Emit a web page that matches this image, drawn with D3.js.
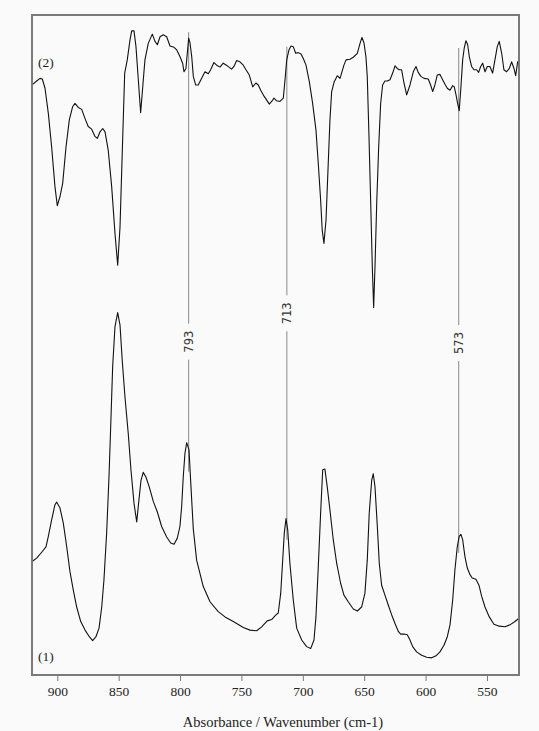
<!DOCTYPE html>
<html>
<head>
<meta charset="utf-8">
<script src="https://cdn.jsdelivr.net/npm/d3@7"></script>
<style>
  html, body { margin: 0; padding: 0; background: #fafafa; }
  svg { display: block; }
</style>
</head>
<body>
<script>
// Spectrum (1): absorbance vs wavenumber (cm-1), stacked at the bottom
const wavenumber1 = [920.5,916.8,912.7,909.2,907.3,904.6,901.9,900.5,897.8,895.1,892.3,889.7,887.0,884.2,880.9,877.4,873.9,871.2,868.5,866.0,863.8,862.0,859.8,857.9,856.5,854.9,853.0,850.8,848.9,847.1,844.9,842.2,840.0,837.5,835.3,833.5,831.8,830.0,827.8,825.1,821.8,818.5,815.0,810.9,807.6,804.9,802.3,800.1,798.7,797.4,796.0,794.6,792.7,791.1,789.2,786.5,781.1,775.6,768.9,763.4,756.6,748.5,743.0,737.6,733.5,729.0,725.4,721.9,720.0,718.0,716.4,715.1,713.7,712.3,710.5,707.8,705.0,700.9,696.9,693.6,690.9,689.3,687.4,685.5,683.8,682.0,680.1,677.9,675.2,672.4,669.2,666.5,663.0,658.9,655.6,652.1,649.4,647.5,645.9,643.9,642.6,641.2,639.3,637.7,635.8,633.1,630.4,627.6,624.9,622.2,620.3,617.4,614.9,612.7,610.5,607.3,603.2,599.1,595.0,591.5,588.3,585.0,582.3,580.1,577.9,576.1,574.2,572.6,571.2,569.8,567.9,566.0,563.8,562.0,559.0,556.5,554.3,551.6,548.1,544.3,540.0,535.3,531.3,527.2,523.9];
const absorbance1 = [0.172,0.177,0.186,0.194,0.210,0.235,0.258,0.262,0.253,0.230,0.194,0.157,0.129,0.103,0.081,0.068,0.058,0.052,0.058,0.071,0.103,0.144,0.215,0.300,0.376,0.467,0.528,0.549,0.530,0.477,0.422,0.366,0.311,0.260,0.232,0.265,0.295,0.307,0.300,0.285,0.263,0.247,0.225,0.209,0.200,0.198,0.207,0.225,0.255,0.300,0.336,0.352,0.341,0.285,0.221,0.174,0.134,0.111,0.096,0.088,0.081,0.072,0.068,0.067,0.073,0.082,0.084,0.091,0.094,0.124,0.174,0.215,0.237,0.220,0.169,0.114,0.071,0.053,0.043,0.040,0.053,0.088,0.164,0.245,0.311,0.312,0.285,0.250,0.205,0.169,0.139,0.121,0.111,0.100,0.097,0.103,0.124,0.174,0.245,0.295,0.305,0.285,0.225,0.169,0.136,0.121,0.106,0.091,0.078,0.066,0.062,0.062,0.061,0.053,0.043,0.035,0.030,0.027,0.026,0.029,0.035,0.045,0.058,0.076,0.114,0.159,0.194,0.210,0.213,0.205,0.179,0.162,0.152,0.147,0.145,0.136,0.119,0.103,0.088,0.077,0.074,0.073,0.076,0.081,0.086];

// Spectrum (2): offset trace at the top
const wavenumber2 = [920.5,916.8,914.1,912.2,910.0,907.3,904.6,901.9,900.0,897.8,895.6,892.9,890.2,887.5,885.6,882.9,880.1,877.4,874.8,872.0,869.3,867.4,865.2,863.0,861.1,858.5,855.7,853.0,850.8,848.9,847.1,845.1,843.0,840.8,839.4,837.5,835.9,834.0,832.1,830.4,828.6,825.9,822.6,820.4,818.5,816.3,813.7,810.9,808.2,804.9,802.7,800.1,797.9,796.8,795.2,793.0,791.9,790.5,789.2,787.3,785.2,782.4,779.7,777.0,775.1,772.4,770.2,767.5,764.8,761.5,758.0,756.1,753.9,751.2,748.5,746.3,743.6,740.8,738.2,736.3,734.3,731.6,729.4,727.3,725.4,723.5,721.3,718.6,715.9,714.5,713.1,711.3,709.6,707.8,705.8,703.7,701.5,699.6,697.4,694.7,692.0,689.3,687.4,685.5,684.2,682.8,681.1,679.5,677.9,676.5,674.4,671.9,669.7,668.4,666.5,664.8,661.6,658.9,655.6,653.4,651.8,650.2,648.6,647.5,646.1,644.7,643.4,642.3,641.2,639.8,638.2,636.6,635.0,633.1,631.2,629.0,626.8,624.9,623.1,621.4,619.5,617.6,615.4,612.7,610.0,607.8,606.0,603.8,601.3,597.8,595.9,594.2,592.4,590.5,588.3,586.1,584.2,582.3,580.1,577.9,576.6,575.2,573.9,572.6,571.2,569.8,568.5,567.1,565.7,564.4,562.5,560.6,558.4,556.8,555.1,553.5,551.6,549.7,547.6,545.4,543.5,541.6,540.0,538.0,536.2,534.0,531.8,529.9,528.0,526.6,525.0,523.9];
const absorbance2 = [0.894,0.900,0.904,0.903,0.889,0.851,0.800,0.740,0.711,0.725,0.745,0.800,0.841,0.861,0.866,0.860,0.857,0.843,0.831,0.827,0.816,0.813,0.823,0.828,0.823,0.795,0.740,0.669,0.621,0.679,0.790,0.912,0.932,0.962,0.976,0.976,0.952,0.902,0.852,0.891,0.932,0.957,0.971,0.960,0.955,0.967,0.970,0.967,0.953,0.951,0.947,0.937,0.927,0.914,0.919,0.965,0.958,0.937,0.907,0.894,0.894,0.904,0.914,0.911,0.917,0.928,0.924,0.921,0.927,0.923,0.918,0.922,0.931,0.929,0.924,0.917,0.909,0.891,0.897,0.894,0.886,0.877,0.871,0.865,0.869,0.874,0.870,0.869,0.874,0.902,0.932,0.947,0.953,0.952,0.942,0.943,0.941,0.934,0.924,0.899,0.866,0.826,0.775,0.720,0.674,0.654,0.689,0.765,0.841,0.884,0.899,0.908,0.904,0.912,0.924,0.932,0.933,0.936,0.942,0.957,0.966,0.958,0.937,0.907,0.816,0.715,0.619,0.557,0.619,0.715,0.800,0.866,0.894,0.900,0.900,0.902,0.912,0.923,0.919,0.917,0.917,0.897,0.879,0.894,0.914,0.922,0.913,0.907,0.904,0.903,0.894,0.884,0.894,0.909,0.910,0.902,0.895,0.889,0.886,0.893,0.891,0.879,0.866,0.855,0.891,0.932,0.950,0.961,0.955,0.937,0.922,0.917,0.917,0.913,0.922,0.927,0.914,0.922,0.922,0.912,0.932,0.952,0.960,0.942,0.917,0.914,0.919,0.929,0.919,0.908,0.929,0.931];

// Marked band positions with the extent of each marker line and its label position
const markBands = [793, 713, 573];
const markTop = [0.974, 0.952, 0.950];
const markBottom = [0.308, 0.205, 0.185];
const markLabelAt = [0.505, 0.548, 0.503];

const xTicks = [900, 850, 800, 750, 700, 650, 600, 550];
const traceLabels = ["(1)", "(2)"];
const traceLabelAt = [0.021, 0.921];
const axisTitle = "Absorbance / Wavenumber (cm-1)";

const W = 539, H = 731;
const plot = { left: 32, top: 15, right: 519, bottom: 675 };

const svg = d3.select("body").append("svg").attr("width", W).attr("height", H);

const x = d3.scaleLinear().domain([920.6, 523.9]).range([plot.left, plot.right]);
const y = d3.scaleLinear().domain([0, 1]).range([plot.bottom, plot.top]);

const serif = "'Liberation Serif', 'Times New Roman', serif";
const sans = "'DejaVu Sans', 'Liberation Sans', sans-serif";

// Marker lines, broken around their rotated labels
const gMarks = svg.append("g");
markBands.forEach((wn, i) => {
  const xp = x(wn);
  const yl = y(markLabelAt[i]);
  const gap = 18;
  gMarks.append("line")
    .attr("x1", xp).attr("x2", xp)
    .attr("y1", y(markTop[i])).attr("y2", yl - gap)
    .attr("stroke", "#8a8a8a").attr("stroke-width", 1);
  gMarks.append("line")
    .attr("x1", xp).attr("x2", xp)
    .attr("y1", yl + gap).attr("y2", y(markBottom[i]))
    .attr("stroke", "#8a8a8a").attr("stroke-width", 1);
  gMarks.append("text")
    .attr("transform", `translate(${xp + 4},${yl}) rotate(-90)`)
    .attr("text-anchor", "middle")
    .attr("font-family", sans)
    .attr("font-size", 11.5)
    .attr("fill", "#333")
    .text(String(wn));
});

// Spectra
const line = d3.line().x(d => x(d[0])).y(d => y(d[1]));
[[wavenumber1, absorbance1], [wavenumber2, absorbance2]].forEach(([wn, ab]) => {
  svg.append("path")
    .datum(wn.map((w, i) => [w, ab[i]]))
    .attr("d", line)
    .attr("fill", "none")
    .attr("stroke", "#111")
    .attr("stroke-width", 1.1)
    .attr("stroke-linejoin", "round");
});

// Frame
svg.append("rect")
  .attr("x", plot.left).attr("y", plot.top)
  .attr("width", plot.right - plot.left).attr("height", plot.bottom - plot.top)
  .attr("fill", "none").attr("stroke", "#7a7a7a").attr("stroke-width", 2);

// Bottom axis
const axis = d3.axisBottom(x).tickValues(xTicks).tickSize(5).tickPadding(5);
const gAxis = svg.append("g").attr("transform", `translate(0,${plot.bottom + 1})`).call(axis);
gAxis.select(".domain").remove();
gAxis.selectAll(".tick line").attr("stroke", "#777");
gAxis.selectAll(".tick text")
  .attr("font-family", serif).attr("font-size", 13.5).attr("fill", "#222");

// Trace labels
traceLabels.forEach((t, i) => {
  svg.append("text")
    .attr("x", plot.left + 6)
    .attr("y", y(traceLabelAt[i]))
    .attr("font-family", serif).attr("font-size", 13.5).attr("fill", "#222")
    .text(t);
});

// Axis title
svg.append("text")
  .attr("x", 283)
  .attr("y", 727)
  .attr("text-anchor", "middle")
  .attr("font-family", serif).attr("font-size", 14.5).attr("fill", "#222")
  .text(axisTitle);
</script>
</body>
</html>
